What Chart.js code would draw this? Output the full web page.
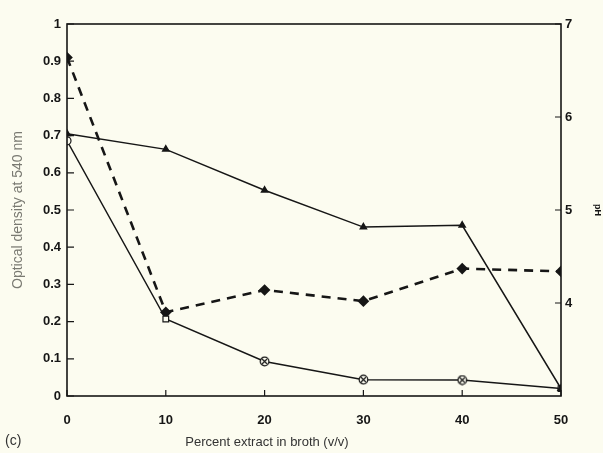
<!DOCTYPE html>
<html>
<head>
<meta charset="utf-8">
<script src="https://cdn.jsdelivr.net/npm/chart.js@4/dist/chart.umd.min.js"></script>
<style>
  html, body { margin: 0; padding: 0; background: #fcfcf0; }
  #wrap { width: 603px; height: 453px; }
</style>
</head>
<body>
<div id="wrap"><canvas id="chart" width="603" height="453"></canvas></div>
<script>
// Percent extract in broth (v/v)
const extract = [0, 10, 20, 30, 40, 50];
// solid line, filled triangles (optical density)
const odTriangle = [0.705, 0.663, 0.553, 0.454, 0.459, 0.02];
// solid line, open circles / squares (optical density)
const odCircle = [0.686, 0.207, 0.093, 0.044, 0.043, 0.02];
// dashed line, filled diamonds (right axis)
const phDashed = [6.64, 3.90, 4.14, 4.02, 4.37, 4.34];

const leftTicks = [0, 0.1, 0.2, 0.3, 0.4, 0.5, 0.6, 0.7, 0.8, 0.9, 1];
const rightTicks = [4, 5, 6, 7];
const xTicks = [0, 10, 20, 30, 40, 50];

const ink = '#161616';
const paper = '#fcfcf0';

// circle with a cross inside
function crossCircle() {
    const c = document.createElement('canvas');
    c.width = 11; c.height = 11;
    const g = c.getContext('2d');
    g.fillStyle = paper;
    g.strokeStyle = ink;
    g.lineWidth = 1.2;
    g.beginPath(); g.arc(5.5, 5.5, 4.3, 0, Math.PI * 2); g.fill(); g.stroke();
    g.beginPath();
    g.moveTo(3, 3); g.lineTo(8, 8);
    g.moveTo(8, 3); g.lineTo(3, 8);
    g.stroke();
    return c;
}
const cc = crossCircle();

const frame = {
    id: 'frame',
    afterDraw(chart) {
        const { ctx, chartArea: a, scales } = chart;
        ctx.save();
        ctx.strokeStyle = ink;
        ctx.lineWidth = 1.6;
        ctx.strokeRect(a.left, a.top, a.right - a.left, a.bottom - a.top);
        ctx.lineWidth = 1.2;
        ctx.beginPath();
        leftTicks.forEach(v => {
            const y = scales.y.getPixelForValue(v);
            ctx.moveTo(a.left, y); ctx.lineTo(a.left + 7, y);
        });
        rightTicks.forEach(v => {
            const y = scales.y2.getPixelForValue(v);
            ctx.moveTo(a.right, y); ctx.lineTo(a.right - 6, y);
        });
        xTicks.forEach(v => {
            const x = scales.x.getPixelForValue(v);
            ctx.moveTo(x, a.bottom); ctx.lineTo(x, a.bottom - 6);
        });
        ctx.stroke();

        ctx.fillStyle = '#333';
        ctx.font = '13px "Liberation Sans", Arial, sans-serif';
        ctx.textBaseline = 'middle';
        ctx.textAlign = 'center';
        ctx.fillText('Percent extract in broth (v/v)', 267, 442);
        ctx.textAlign = 'left';
        ctx.font = '14px "Liberation Sans", Arial, sans-serif';
        ctx.fillText('(c)', 5, 441);
        ctx.restore();
    }
};

const paperBg = {
    id: 'paperBg',
    beforeDraw(chart) {
        const { ctx, width, height } = chart;
        ctx.save();
        ctx.fillStyle = paper;
        ctx.fillRect(0, 0, width, height);
        ctx.restore();
    }
};

const tickFont = { family: '"Liberation Sans", Arial, sans-serif', size: 13, weight: 'bold' };

new Chart(document.getElementById('chart').getContext('2d'), {
    type: 'line',
    data: {
        datasets: [
            {
                label: 'OD triangles',
                data: extract.map((x, i) => ({ x, y: odTriangle[i] })),
                yAxisID: 'y',
                borderColor: ink,
                borderWidth: 1.5,
                pointStyle: 'triangle',
                pointRadius: 3.5,
                pointBackgroundColor: ink,
                pointBorderColor: ink,
                tension: 0
            },
            {
                label: 'OD circles',
                data: extract.map((x, i) => ({ x, y: odCircle[i] })),
                yAxisID: 'y',
                borderColor: ink,
                borderWidth: 1.5,
                pointStyle: ['circle', 'rect', cc, cc, cc, 'rect'],
                pointRadius: 4,
                pointBackgroundColor: paper,
                pointBorderColor: ink,
                pointBorderWidth: 1.2,
                tension: 0
            },
            {
                label: 'pH',
                data: extract.map((x, i) => ({ x, y: phDashed[i] })),
                yAxisID: 'y2',
                borderColor: ink,
                borderWidth: 2.6,
                borderDash: [9, 7],
                pointStyle: 'rectRot',
                pointRadius: 4,
                pointBackgroundColor: ink,
                pointBorderColor: ink,
                tension: 0
            }
        ]
    },
    options: {
        responsive: false,
        animation: false,
        layout: { padding: { top: 24, left: 0, right: 0, bottom: 0 } },
        plugins: { legend: { display: false }, tooltip: { enabled: false } },
        scales: {
            x: {
                type: 'linear',
                min: 0, max: 50,
                afterFit: s => { s.height = 57; },
                afterBuildTicks: s => { s.ticks = xTicks.map(v => ({ value: v })); },
                grid: { display: false, drawTicks: false },
                border: { display: false },
                ticks: { color: ink, font: tickFont, padding: 17, maxRotation: 0, callback: v => String(v) }
            },
            y: {
                position: 'left',
                min: 0, max: 1,
                afterFit: s => { s.width = 67; },
                afterBuildTicks: s => { s.ticks = leftTicks.map(v => ({ value: v })); },
                grid: { display: false, drawTicks: false },
                border: { display: false },
                ticks: { color: ink, font: tickFont, padding: 6, callback: v => String(+v.toFixed(1)) },
                title: {
                    display: true,
                    text: 'Optical density at 540 nm',
                    color: '#7a7a72',
                    font: { family: '"Liberation Sans", Arial, sans-serif', size: 14 },
                    padding: { top: 10, bottom: 0 }
                }
            },
            y2: {
                position: 'right',
                min: 3, max: 7,
                afterFit: s => { s.width = 42; },
                afterBuildTicks: s => { s.ticks = rightTicks.map(v => ({ value: v })); },
                grid: { display: false, drawTicks: false },
                border: { display: false },
                ticks: { color: ink, font: tickFont, padding: 4, callback: v => String(v) },
                title: {
                    display: true,
                    text: 'pH',
                    color: ink,
                    font: { family: '"Liberation Sans", Arial, sans-serif', size: 9, weight: 'bold' },
                    padding: { top: 0, bottom: 4 }
                }
            }
        }
    },
    plugins: [paperBg, frame]
});
</script>
</body>
</html>
